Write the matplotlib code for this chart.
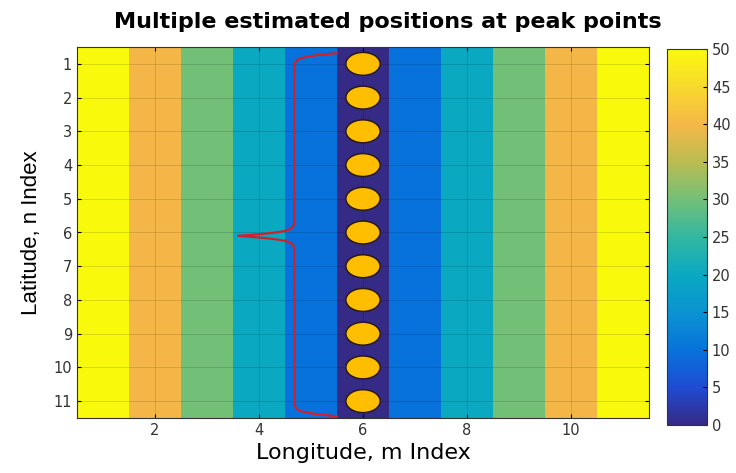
import numpy as np
import matplotlib.pyplot as plt
from matplotlib.colors import LinearSegmentedColormap
from matplotlib.patches import Ellipse

# grid data: distance-based value per longitude column (same for every latitude row)
lon_idx = np.arange(1, 12)
lat_idx = np.arange(1, 12)
col_values = [50, 40, 30, 20, 10, 0, 10, 20, 30, 40, 50]

# estimated peak positions
peak_lon = [6] * 11
peak_lat = [1, 2, 3, 4, 5, 6, 7, 8, 9, 10, 11]

# brace annotation (data coords)
brace_end_x = 5.5
brace_mid_x = 4.68
brace_tip_x = 3.6
brace_top = 0.68
brace_bottom = 11.45
brace_tip_y = 6.1

# approximate MATLAB parula
parula_pts = [
    (0.2081, 0.1663, 0.5292), (0.12, 0.30, 0.83), (0.03, 0.45, 0.86),
    (0.04, 0.58, 0.82), (0.04, 0.66, 0.76), (0.20, 0.72, 0.63),
    (0.45, 0.75, 0.47), (0.73, 0.74, 0.32), (0.96, 0.72, 0.28),
    (0.97, 0.85, 0.18), (0.98, 0.98, 0.05),
]
parula = LinearSegmentedColormap.from_list('parula', parula_pts)

Z = np.tile(col_values, (len(lat_idx), 1))

fig = plt.figure(figsize=(7.36, 4.73), dpi=100)
ax = fig.add_axes([77 / 736, 1 - 418 / 473, 572 / 736, 371 / 473])
cax = fig.add_axes([667 / 736, 1 - 425 / 473, 40 / 736, 376 / 473])

im = ax.imshow(Z, cmap=parula, vmin=0, vmax=50, aspect='auto',
               extent=[0.5, 11.5, 11.5, 0.5], interpolation='nearest')

for x, y in zip(peak_lon, peak_lat):
    ax.add_patch(Ellipse((x, y), 0.66, 0.68, facecolor='#ffbf00',
                         edgecolor='#2a1a14', lw=1.1, zorder=4))


def half_brace(t, a, b, beta):
    return a * 2 * (1 / (1 + np.exp(-beta * t)) - 0.5) + b * 2 / (1 + np.exp(-beta * (t - t[-1])))


t1 = np.linspace(0, brace_tip_y - brace_top, 300)
t2 = np.linspace(0, brace_bottom - brace_tip_y, 300)
d1 = brace_end_x - brace_mid_x
d2 = brace_mid_x - brace_tip_x
x1 = brace_end_x - half_brace(t1, d1, d2, 16)
x2 = brace_end_x - half_brace(t2, d1, d2, 16)
bx = np.concatenate([x1, x2[::-1]])
by = np.concatenate([brace_top + t1, brace_bottom - t2[::-1]])
ax.plot(bx, by, color='#d0202c', lw=1.6, zorder=3)

ax.set_xlim(0.5, 11.5)
ax.set_ylim(11.5, 0.5)
ax.set_xticks([2, 4, 6, 8, 10])
ax.set_yticks(lat_idx)
ax.grid(True, color='k', alpha=0.15, lw=0.6)
ax.tick_params(direction='in', top=True, right=True, length=3,
               labelsize=10.5, labelcolor='#333333')
for s in ax.spines.values():
    s.set_color('#333333')

ax.set_title('Multiple estimated positions at peak points',
             fontsize=16, fontweight='bold', pad=14, x=(388 - 77) / 572)
ax.set_xlabel('Longitude, m Index', fontsize=16, labelpad=4)
ax.set_ylabel('Latitude, n Index', fontsize=16, family='Liberation Sans', labelpad=8)

cb = fig.colorbar(im, cax=cax, ticks=np.arange(0, 51, 5))
cb.ax.tick_params(direction='in', length=3, labelsize=10.5, labelcolor='#333333')
cb.outline.set_edgecolor('#333333')

fig.savefig('out.png', dpi=100)
